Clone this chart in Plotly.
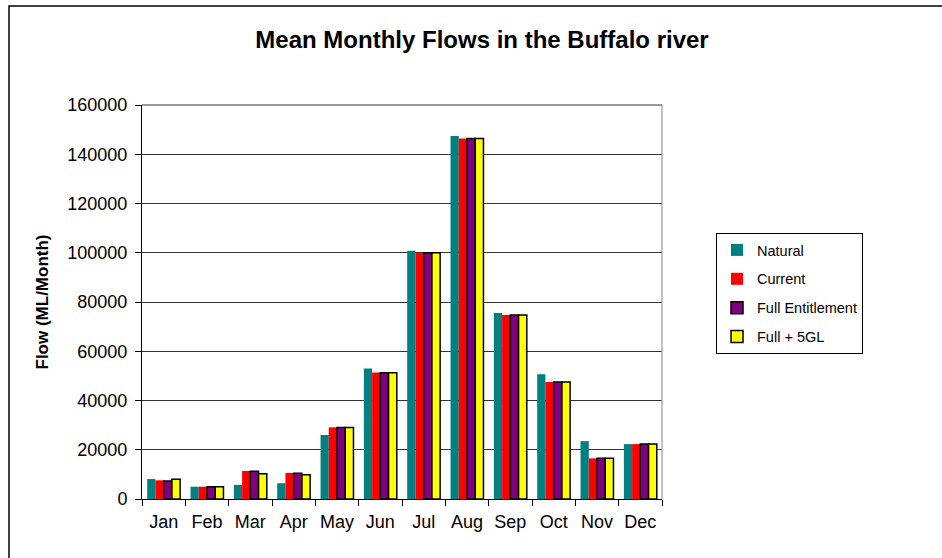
import plotly.graph_objects as go

# Mean monthly flows (ML/Month)
months = ['Jan', 'Feb', 'Mar', 'Apr', 'May', 'Jun', 'Jul', 'Aug', 'Sep', 'Oct', 'Nov', 'Dec']
natural = [8100, 5000, 5700, 6400, 26000, 53000, 100800, 147400, 75500, 50700, 23500, 22300]
current = [7600, 5000, 11400, 10600, 29100, 51400, 100000, 146400, 74700, 47500, 16500, 22300]
full_ent = [7300, 5000, 11300, 10500, 29000, 51300, 100000, 146400, 74700, 47500, 16500, 22300]
full_5gl = [8000, 5000, 10300, 9800, 29000, 51300, 100000, 146400, 74700, 47500, 16500, 22300]
y_ticks = [0, 20000, 40000, 60000, 80000, 100000, 120000, 140000, 160000]

series = [
    ('Natural', natural, '#008080', 0),
    ('Current', current, '#FF0000', 0),
    ('Full Entitlement', full_ent, '#800080', 1.5),
    ('Full + 5GL', full_5gl, '#FFFF00', 1.5),
]

fig = go.Figure()
for name, vals, col, lw in series:
    fig.add_trace(go.Bar(x=months, y=vals, name=name, legendgroup=name,
                         marker=dict(color=col, line=dict(color='black', width=lw))))

W, H = 942, 558
L, R, T, B = 142, 280, 105, 59
pw, ph = W - L - R, H - T - B

fig.update_layout(
    width=W, height=H,
    margin=dict(l=L, r=R, t=T, b=B),
    paper_bgcolor='white', plot_bgcolor='white',
    font=dict(family='Liberation Sans, Arial, sans-serif', size=18, color='black'),
    title=dict(text='<b>Mean Monthly Flows in the Buffalo river</b>', x=(482 - L) / pw,
               xref='paper', xanchor='center', y=1 - 40 / H, yanchor='middle',
               font=dict(size=24)),
    barmode='group', bargap=0.24, bargroupgap=0,
    showlegend=True,
    legend=dict(x=(716 - L) / pw, y=(H - B - 233) / ph, xanchor='left', yanchor='top',
                bordercolor='black', borderwidth=1, font=dict(size=14.5),
                tracegroupgap=7, itemwidth=30),
    xaxis=dict(showline=True, linecolor='black', linewidth=1, ticks='outside',
               tickson='boundaries', ticklen=6, tickcolor='black',
               ticklabelstandoff=6, tickfont=dict(size=18)),
    yaxis=dict(range=[0, 160000], tickvals=y_ticks, tickformat='d', showline=True,
               linecolor='black', linewidth=1, ticks='outside', ticklen=6,
               tickcolor='black', showgrid=True, gridcolor='#333333', gridwidth=1,
               ticklabelstandoff=4, tickfont=dict(size=18),
               title=dict(text='<b>Flow (ML/Month)</b>', font=dict(size=17), standoff=14)),
    shapes=[
        # plot area frame (grey right edge, dark top gridline)
        dict(type='line', xref='paper', yref='paper', x0=1, x1=1, y0=0, y1=1,
             line=dict(color='#888888', width=1)),
        dict(type='line', xref='paper', yref='paper', x0=0, x1=1, y0=1, y1=1,
             line=dict(color='#333333', width=1)),
        # outer chart border (left and top edges visible)
        dict(type='rect', xref='paper', yref='paper',
             x0=(9 - L) / pw, x1=(W + 10 - L) / pw,
             y0=(H - B - (H + 10)) / ph, y1=(H - B - 6) / ph,
             line=dict(color='black', width=1.5)),
    ],
)

fig.write_html('out.html', config={'displayModeBar': False},
               post_script="document.body.style.margin='0';")
